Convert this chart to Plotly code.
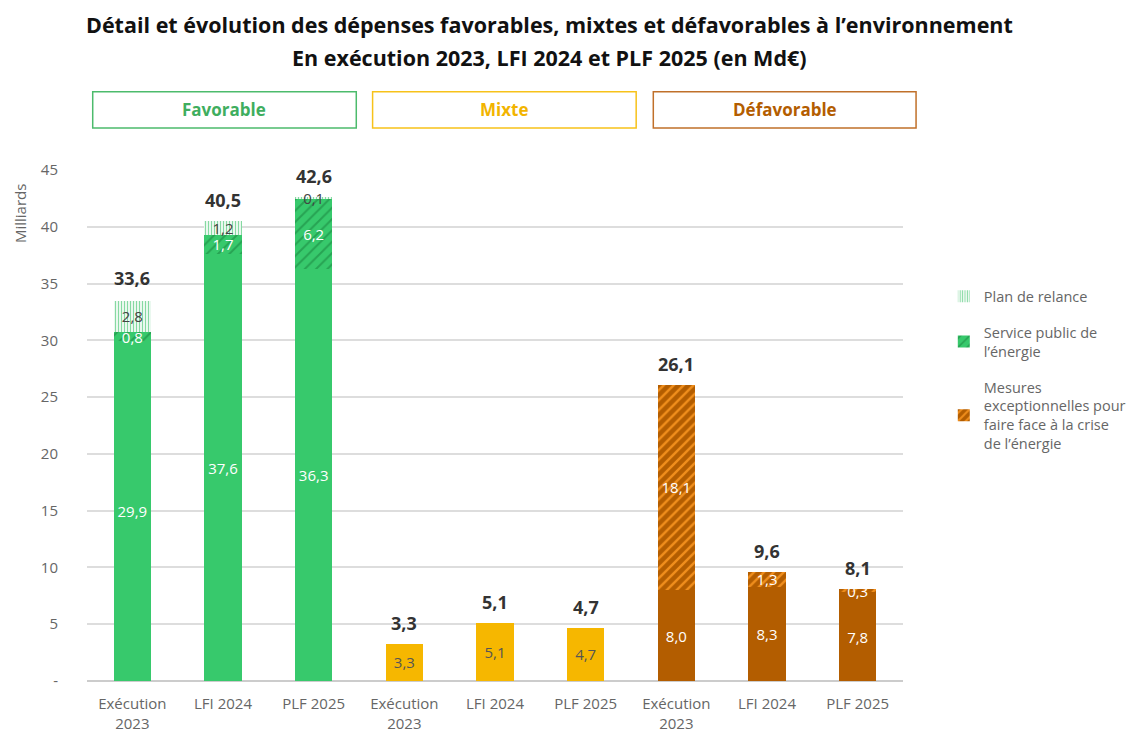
import plotly.graph_objects as go

categories = ["Exécution<br>2023", "LFI 2024", "PLF 2025",
              "Exécution<br>2023", "LFI 2024", "PLF 2025",
              "Exécution<br>2023", "LFI 2024", "PLF 2025"]
groups = ["Favorable", "Mixte", "Défavorable"]

base_values = [29.9, 37.6, 36.3, 3.3, 5.1, 4.7, 8.0, 8.3, 7.8]
service_public = [0.8, 1.7, 6.2, None, None, None, None, None, None]
mesures_crise = [None, None, None, None, None, None, 18.1, 1.3, 0.3]
plan_relance = [2.8, 1.2, 0.1, None, None, None, None, None, None]
totals = [33.6, 40.5, 42.6, 3.3, 5.1, 4.7, 26.1, 9.6, 8.1]

y_ticks = [0, 5, 10, 15, 20, 25, 30, 35, 40, 45]
y_ticktext = ["-", "5", "10", "15", "20", "25", "30", "35", "40", "45"]

GREEN = "#37c96c"
GREEN_D = "#27a353"
YELLOW = "#f6b700"
BROWN = "#b35d00"
ORANGE = "#f08e1c"
FONT = "Open Sans"

def fmt(v):
    return "" if v is None else f"{v:.1f}".replace(".", ",")

x = list(range(len(categories)))
base_colors = [GREEN] * 3 + [YELLOW] * 3 + [BROWN] * 3
base_text_colors = ["white"] * 3 + ["#555555"] * 3 + ["white"] * 3

fig = go.Figure()

fig.add_trace(go.Bar(
    x=x, y=base_values, marker=dict(color=base_colors, line=dict(width=0)),
    text=[fmt(v) for v in base_values], textposition="inside",
    insidetextanchor="middle", constraintext="none",
    textfont=dict(color=base_text_colors, size=15, family=FONT),
    showlegend=False, hoverinfo="skip"))

fig.add_trace(go.Bar(
    x=x, y=service_public, name="Service public de<br>l’énergie",
    marker=dict(color=GREEN, line=dict(width=0),
                pattern=dict(shape="/", fgcolor=GREEN_D, bgcolor=GREEN,
                             size=8, solidity=0.25, fillmode="replace")),
    text=[fmt(v) for v in service_public], textposition="inside",
    insidetextanchor="middle", constraintext="none",
    textfont=dict(color="white", size=15, family=FONT),
    legendrank=2, legendgroup="b", hoverinfo="skip"))

fig.add_trace(go.Bar(
    x=x, y=mesures_crise,
    name="Mesures<br>exceptionnelles pour<br>faire face à la crise<br>de l’énergie",
    marker=dict(color=BROWN, line=dict(width=0),
                pattern=dict(shape="/", fgcolor=ORANGE, bgcolor=BROWN,
                             size=7, solidity=0.35, fillmode="replace")),
    text=[fmt(v) for v in mesures_crise], textposition="inside",
    insidetextanchor="middle", constraintext="none",
    textfont=dict(color="white", size=15, family=FONT),
    legendrank=3, legendgroup="c", hoverinfo="skip"))

fig.add_trace(go.Bar(
    x=x, y=plan_relance, name="Plan de relance",
    marker=dict(color="white", line=dict(width=0),
                pattern=dict(shape="|", fgcolor="#86d9a2", bgcolor="white",
                             size=3, solidity=0.45, fillmode="replace")),
    text=[fmt(v) for v in plan_relance], textposition="inside",
    insidetextanchor="middle", constraintext="none",
    textfont=dict(color="#444444", size=15, family=FONT),
    legendrank=1, legendgroup="a", hoverinfo="skip"))

# Totals above bars
for xi, tv in zip(x, totals):
    fig.add_annotation(x=xi, y=tv, xref="x", yref="y", text=f"<b>{fmt(tv)}</b>",
                       showarrow=False, xanchor="center", yanchor="bottom", yshift=7,
                       font=dict(size=18, color="#333333", family=FONT))

# Group header boxes
box_specs = [(0.007, 0.330, "#4cbb6c", "#3fae5f"),
             (0.350, 0.673, "#f7c21a", "#f2b400"),
             (0.694, 1.016, "#c0702a", "#b35d00")]
for (x0, x1, lc, tc), g in zip(box_specs, groups):
    fig.add_shape(type="rect", xref="paper", yref="paper", x0=x0, x1=x1,
                  y0=1.082, y1=1.153, line=dict(color=lc, width=1.5),
                  fillcolor="white")
    fig.add_annotation(xref="paper", yref="paper", x=(x0 + x1) / 2, y=1.1175,
                       xanchor="center", yanchor="middle",
                       text=f"<b>{g}</b>", showarrow=False,
                       font=dict(size=17, color=tc, family=FONT))

fig.add_annotation(xref="paper", yref="paper", x=0.567, y=1.284,
                   xanchor="center", yanchor="middle",
                   text="<b>Détail et évolution des dépenses favorables, mixtes et défavorables à l’environnement</b>",
                   showarrow=False, font=dict(size=21.5, color="#111111", family=FONT))
fig.add_annotation(xref="paper", yref="paper", x=0.567, y=1.221,
                   xanchor="center", yanchor="middle",
                   text="<b>En exécution 2023, LFI 2024 et PLF 2025 (en Md€)</b>",
                   showarrow=False, font=dict(size=21.5, color="#111111", family=FONT))
fig.add_annotation(xref="paper", yref="paper", x=-0.082, y=0.914,
                   xanchor="center", yanchor="middle",
                   text="Milliards", textangle=-90, showarrow=False,
                   font=dict(size=15, color="#666666", family=FONT))

fig.update_layout(
    width=1134, height=723, barmode="stack", bargap=0.59,
    margin=dict(l=79, r=239, t=162, b=50, autoexpand=False),
    plot_bgcolor="white", paper_bgcolor="white",
    font=dict(family=FONT, size=14, color="#555555"),
    legend=dict(x=1.05, y=0.784, xanchor="left", yanchor="top",
                font=dict(size=14.5, color="#666666", family=FONT),
                valign="middle", tracegroupgap=14, traceorder="grouped"),
    xaxis=dict(tickvals=x, ticktext=categories, range=[-0.5, 8.5],
               showgrid=False, zeroline=False, showline=False, automargin=False,
               tickfont=dict(size=15, color="#666666", family=FONT),
               ticklabelstandoff=12),
    yaxis=dict(range=[0, 45], tickvals=y_ticks, ticktext=y_ticktext,
               showgrid=True, gridcolor="#dddddd", gridwidth=1.5, automargin=False,
               zeroline=True, zerolinecolor="#cccccc", zerolinewidth=1.5,
               tickfont=dict(size=15, color="#666666", family=FONT),
               ticklabelstandoff=28),
)

fig.write_html("out.html")
